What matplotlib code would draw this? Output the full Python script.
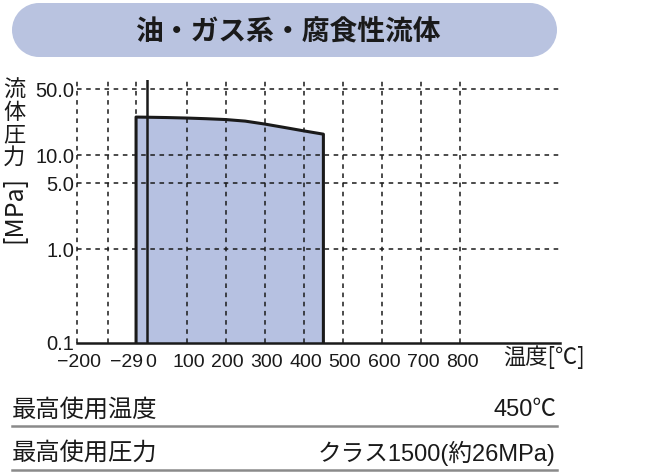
import matplotlib
matplotlib.use("Agg")
import matplotlib.pyplot as plt
from matplotlib.patches import Ellipse, Rectangle
from matplotlib.lines import Line2D
from matplotlib.transforms import ScaledTranslation

plt.rcParams['font.family'] = ['Liberation Sans', 'Noto Sans CJK JP', 'DejaVu Sans']

# ---- data ----
temps = [-29, 0, 50, 100, 150, 200, 250, 300, 350, 400, 450]
pressures = [25.4, 25.3, 25.1, 24.8, 24.4, 23.9, 23.0, 21.4, 19.7, 18.1, 16.7]
xtick_vals = [-180, -29, 0, 100, 200, 300, 400, 500, 600, 700, 800]
xtick_labels = ["\u2212200", "\u221229", "0", "100", "200", "300", "400", "500", "600", "700", "800"]
ytick_vals = [0.1, 1.0, 5.0, 10.0, 50.0]
ytick_labels = ["0.1", "1.0", "5.0", "10.0", "50.0"]
vgrid = [-100, -29, 100, 200, 300, 400, 500, 600, 700, 800]
hgrid = [1.0, 5.0, 10.0, 50.0]
title = "油・ガス系・腐食性流体"
rows = [("最高使用温度", "450℃"), ("最高使用圧力", "クラス1500(約26MPa)")]

W, H = 650, 472
fig = plt.figure(figsize=(W / 100, H / 100), dpi=100)
fig.patch.set_facecolor("white")

fill_color = "#b6c1e1"
banner_color = "#b9c3e0"
ink = "#1a1a1a"
cjk = ['Noto Sans CJK JP', 'DejaVu Sans']

def fx(px):
    return px / W

def fy(py):
    return 1 - py / H

# ---- banner (pill shape) ----
r = 27
fig.patches.append(Rectangle((fx(12 + r), fy(57)), fx(557 - 12 - 2 * r), (57 - 3) / H,
                             transform=fig.transFigure, facecolor=banner_color,
                             edgecolor="none"))
for cx in (12 + r, 557 - r):
    fig.patches.append(Ellipse((fx(cx), fy(30)), 2 * r / W, 54 / H,
                               transform=fig.transFigure, facecolor=banner_color,
                               edgecolor="none"))
fig.text(fx(288), fy(31), title, ha="center", va="center", fontsize=20,
         fontweight="bold", color=ink, family=cjk)

# ---- axes ----
ax = fig.add_axes([fx(77), fy(343), fx(560 - 77), (343 - 80) / H])
ax.set_yscale("log")
ax.set_xlim(-180, 1055)
ax.set_ylim(0.1, 63)
for s in ["top", "right", "left"]:
    ax.spines[s].set_visible(False)
ax.spines["bottom"].set_linewidth(1.8)
ax.spines["bottom"].set_color(ink)

ax.fill_between(temps, 0.1, pressures, color=fill_color, lw=0, zorder=1)
ax.plot([temps[0]] + temps + [temps[-1]], [0.1] + pressures + [0.1],
        color=ink, lw=2.2, zorder=4, solid_joinstyle="round")

dash = (0, (3, 3))
for v in vgrid:
    ax.axvline(v, color=ink, lw=1.1, ls=dash, zorder=3)
ax.axvline(-180, color=ink, lw=1.1, ls=dash, zorder=3, clip_on=False)
for h in hgrid:
    ax.axhline(h, color=ink, lw=1.1, ls=dash, zorder=3)
ax.axvline(0, color=ink, lw=1.8, zorder=5)

ax.set_xticks(xtick_vals)
ax.set_xticklabels(xtick_labels)
ax.set_yticks(ytick_vals)
ax.set_yticklabels(ytick_labels)
ax.minorticks_off()
ax.tick_params(axis="y", length=0, pad=2, labelsize=14.5, labelcolor=ink)
ax.tick_params(axis="x", length=0, pad=8, labelsize=14, labelcolor=ink)

# per-label horizontal nudges (px) and alignment
adjust = {"\u2212200": (2, "center"), "\u221229": (7, "right"), "0": (-2, "left")}
for lab in ax.get_xticklabels():
    t = lab.get_text()
    dx, ha = adjust.get(t, (2, "center"))
    lab.set_ha(ha)
    lab.set_transform(lab.get_transform() + ScaledTranslation(dx / 100, 0, fig.dpi_scale_trans))

# ---- axis titles ----
fig.text(fx(585), fy(357), "温度[℃]", ha="right", va="center", fontsize=16, color=ink, family=cjk)
for i, ch in enumerate("流体圧力"):
    fig.text(fx(14), fy(90 + i * 22.5), ch, ha="center", va="center", fontsize=16,
             color=ink, family=cjk)
fig.text(fx(14), fy(209), "[MPa]", ha="center", va="center", rotation=90,
         fontsize=18, color=ink, family=cjk)

# ---- bottom table ----
row_y = [410, 453]
line_y = [426, 470]
for (k, v), ty, ly in zip(rows, row_y, line_y):
    fig.text(fx(12), fy(ty), k, ha="left", va="center", fontsize=17.5, color=ink, family=cjk)
    fig.text(fx(556), fy(ty), v, ha="right", va="center", fontsize=17, color=ink)
    fig.add_artist(Line2D([fx(12), fx(557)], [fy(ly), fy(ly)], transform=fig.transFigure,
                          color="#8a8a8a", lw=1.8))

fig.savefig("out.png", dpi=100)
